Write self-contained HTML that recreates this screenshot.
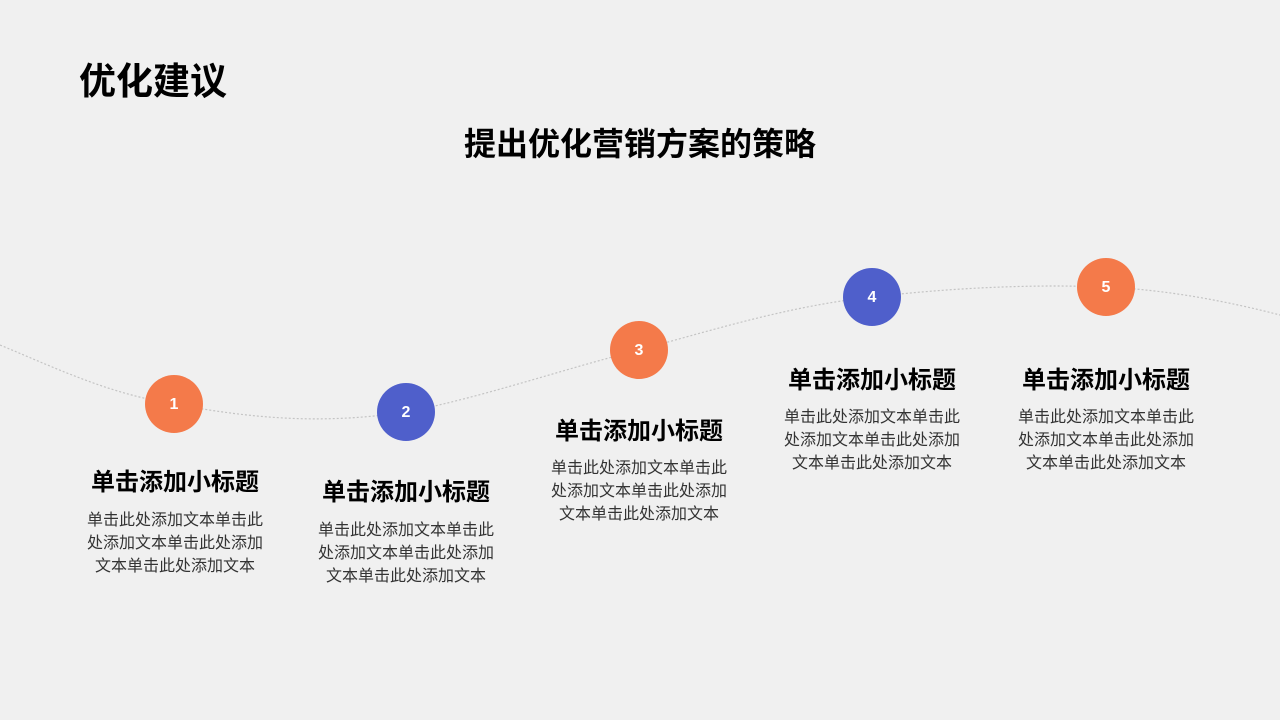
<!DOCTYPE html>
<html><head><meta charset="utf-8"><style>
body{margin:0;width:1280px;height:720px;background:#f0f0f0;position:relative;overflow:hidden;font-family:"Liberation Sans","Noto Sans CJK SC",sans-serif;}
.h{position:absolute;font-weight:bold;color:#000;white-space:nowrap;}
.c{position:absolute;width:58px;height:58px;border-radius:50%;color:#fff;font-weight:bold;font-size:16px;line-height:60px;text-align:center;}
.o{background:#f47a4a}.b{background:#4f5fcb}
.t{position:absolute;width:220px;text-align:center;font-weight:bold;font-size:24px;line-height:30px;color:#000;}
.d{position:absolute;width:220px;text-align:center;font-size:16px;line-height:23px;color:#333;}
</style></head><body>
<div class="h" style="left:79px;top:59px;font-size:37px;line-height:46px;">优化建议</div>
<div class="h" style="left:0;width:1280px;text-align:center;top:124px;font-size:32px;line-height:40px;">提出优化营销方案的策略</div>
<svg width="1280" height="720" style="position:absolute;left:0;top:0">
<path d="M0,345 C60,370 110,394 174,404 C250,418 320,425 406,412 C480,398 560,370 639,350 C720,328 790,306 872,297 C950,288 1030,284 1106,287 C1170,290 1230,302 1280,315" fill="none" stroke="#c4c4c4" stroke-width="1.2" stroke-dasharray="2,2"/>
</svg>
<div class="c o" style="left:145px;top:375px">1</div>
<div class="c b" style="left:377px;top:383px">2</div>
<div class="c o" style="left:610px;top:321px">3</div>
<div class="c b" style="left:843px;top:268px">4</div>
<div class="c o" style="left:1077px;top:258px">5</div>

<div class="t" style="left:65px;top:468px">单击添加小标题</div>
<div class="d" style="left:65px;top:509px">单击此处添加文本单击此<br>处添加文本单击此处添加<br>文本单击此处添加文本</div>
<div class="t" style="left:296px;top:478px">单击添加小标题</div>
<div class="d" style="left:296px;top:519px">单击此处添加文本单击此<br>处添加文本单击此处添加<br>文本单击此处添加文本</div>
<div class="t" style="left:529px;top:417px">单击添加小标题</div>
<div class="d" style="left:529px;top:457px">单击此处添加文本单击此<br>处添加文本单击此处添加<br>文本单击此处添加文本</div>
<div class="t" style="left:762px;top:366px">单击添加小标题</div>
<div class="d" style="left:762px;top:406px">单击此处添加文本单击此<br>处添加文本单击此处添加<br>文本单击此处添加文本</div>
<div class="t" style="left:996px;top:366px">单击添加小标题</div>
<div class="d" style="left:996px;top:406px">单击此处添加文本单击此<br>处添加文本单击此处添加<br>文本单击此处添加文本</div>
</body></html>
